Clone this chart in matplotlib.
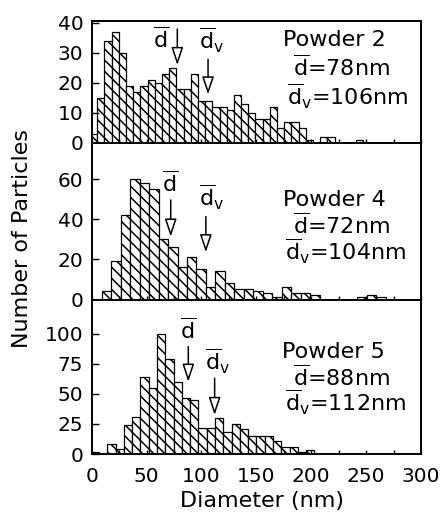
import numpy as np
import matplotlib
matplotlib.use("Agg")
import matplotlib.pyplot as plt

plt.rcParams['font.family'] = ['DejaVu Sans']
plt.rcParams['mathtext.fontset'] = 'custom'
plt.rcParams['mathtext.rm'] = 'DejaVu Sans'
plt.rcParams['hatch.linewidth'] = 1.1

# histogram data, one block per powder (bin start, bin width, counts)
p2_start, p2_width = -1.45, 6.55
p2_counts = [3, 15, 34, 37, 30, 19, 17, 19, 21, 20, 23, 25, 18, 18, 23, 14, 14, 12, 12, 11,
             16, 13, 10, 8, 8, 12, 5, 7, 7, 5, 1, 0, 2, 2, 0, 0, 0, 1]
p4_start, p4_width = 0.5, 8.63
p4_counts = [0, 4, 19, 42, 60, 58, 55, 30, 26, 16, 21, 15, 6, 14, 8, 5, 5, 4, 3, 1,
             6, 3, 3, 2, 0, 0, 0, 0, 1, 2, 1]
p5_start, p5_width = -0.9, 7.55
p5_counts = [2, 0, 8, 4, 24, 31, 64, 55, 100, 79, 60, 47, 45, 22, 22, 30, 18, 25, 21, 15,
             15, 15, 11, 6, 6, 2, 3]

names = ['Powder 2', 'Powder 4', 'Powder 5']
d_mean = [78, 72, 88]
d_vol = [106, 104, 112]
y_ticks = [[0, 10, 20, 30, 40], [0, 20, 40, 60], [0, 25, 50, 75, 100]]
x_ticks = [0, 50, 100, 150, 200, 250, 300]

panels = [(p2_start, p2_width, p2_counts), (p4_start, p4_width, p4_counts), (p5_start, p5_width, p5_counts)]

# layout in pixels of the reference
W, H = 443, 516
left, right = 91.7, 421
tops = [20.7, 142.7, 299.5]
bottoms = [142.7, 299.5, 454]
ylims = [40.7, 78.3, 128.7]

# annotation placement (data coords): text y for 3 lines, arrow spans, label spots
text_x = [(174.4, 183.5, 178), (174.4, 183.5, 176), (173, 183.5, 176)]
text_y = [(32.4, 22.4, 12.4), (46.9, 32.5, 19.5), (80.0, 56.5, 35.5)]
arrow_d = [(37.9, 25.9), (49.7, 31.4), (89.4, 60.2)]
arrow_dv = [(27.8, 16.1), (41.4, 23.6), (63.1, 32.5)]
lab_d = [(63.2, 34.6), (71.4, 57.7), (88, 102.5)]
lab_dv = [(108.8, 34.2), (108.8, 51), (115, 77)]

fig = plt.figure(figsize=(W / 100, H / 100), dpi=100)
fs = 16
dbar = r'$\overline{\mathrm{d}}$'
dvbar = r'$\overline{\mathrm{d}}_{\mathrm{v}}$'

for i, (start, width, counts) in enumerate(panels):
    ax = fig.add_axes([left / W, 1 - bottoms[i] / H, (right - left) / W, (bottoms[i] - tops[i]) / H])
    counts = np.array(counts)
    edges = start + width * np.arange(len(counts))
    keep = counts > 0
    ax.bar(edges[keep], counts[keep], width=width, align='edge', color='white',
           edgecolor='black', linewidth=0.9, hatch='\\\\\\')
    ax.set_xlim(0, 300)
    ax.set_ylim(0, ylims[i])
    ax.set_yticks(y_ticks[i])
    ax.set_xticks(x_ticks)
    ax.set_xticks(np.arange(25, 300, 50), minor=True)
    ax.tick_params(axis='x', which='both', direction='in', length=3, width=1,
                   labelsize=14.5, pad=9, labelbottom=(i == 2))
    ax.tick_params(axis='y', direction='in', length=5, width=1, labelsize=14.5, pad=6)
    for s in ax.spines.values():
        s.set_linewidth(1.4)

    ax.text(text_x[i][0], text_y[i][0], names[i], fontsize=fs)
    ax.text(text_x[i][1], text_y[i][1], dbar + '=%dnm' % d_mean[i], fontsize=fs)
    ax.text(text_x[i][2], text_y[i][2], dvbar + '=%dnm' % d_vol[i], fontsize=fs)

    arrow = dict(arrowstyle='-|>,head_length=10.8,head_width=3.6', mutation_scale=1,
                 fc='white', ec='black', lw=1.1, shrinkA=0, shrinkB=0)
    ax.annotate('', xy=(d_mean[i], arrow_d[i][1]), xytext=(d_mean[i], arrow_d[i][0]), arrowprops=arrow)
    ax.annotate('', xy=(d_vol[i], arrow_dv[i][1]), xytext=(d_vol[i], arrow_dv[i][0]), arrowprops=arrow)
    ax.text(lab_d[i][0], lab_d[i][1], dbar, fontsize=fs, ha='center', va='center')
    ax.text(lab_dv[i][0], lab_dv[i][1], dvbar, fontsize=fs, ha='center', va='center')

fig.text(22 / W, 1 - 238.5 / H, 'Number of Particles', rotation=90, fontsize=16,
         ha='center', va='center')
fig.text(261.7 / W, 1 - 501 / H, 'Diameter (nm)', fontsize=16, ha='center', va='center')

fig.savefig('out.png', dpi=100)
